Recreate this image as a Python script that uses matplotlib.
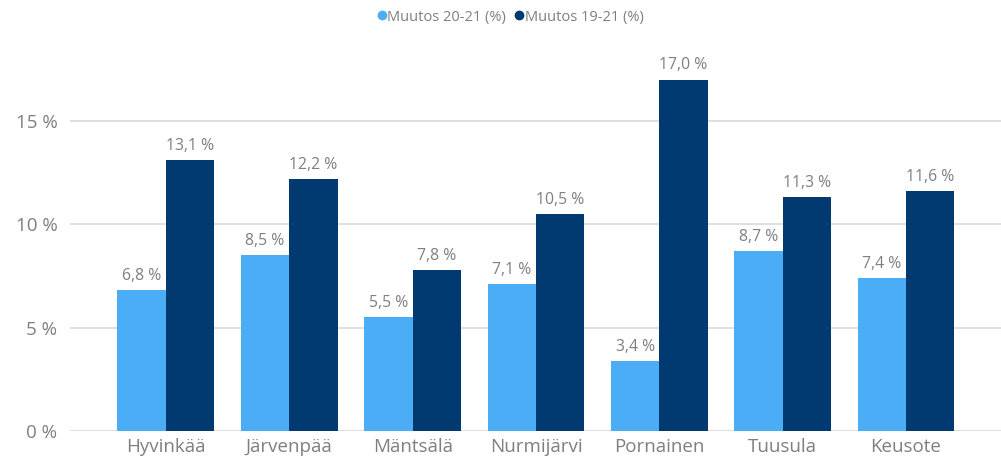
import matplotlib
matplotlib.use("Agg")
import matplotlib.pyplot as plt
import numpy as np
from matplotlib.lines import Line2D

categories = ["Hyvinkää", "Järvenpää", "Mäntsälä", "Nurmijärvi", "Pornainen", "Tuusula", "Keusote"]
muutos_20_21 = [6.8, 8.5, 5.5, 7.1, 3.4, 8.7, 7.4]
muutos_19_21 = [13.1, 12.2, 7.8, 10.5, 17.0, 11.3, 11.6]
series_names = ["Muutos 20-21 (%)", "Muutos 19-21 (%)"]
yticks = [0, 5, 10, 15]

c_light = "#4BADF5"
c_dark = "#003A70"
grey = "#7F7F7F"

plt.rcParams['font.family'] = ['Open Sans', 'DejaVu Sans']

W, H = 1001, 462
fig = plt.figure(figsize=(W/100, H/100), dpi=100)
left_px, right_px = 70, 1001
bottom_px, top_px = 431, 59
ax = fig.add_axes([left_px/W, (H-bottom_px)/H, (right_px-left_px)/W, (bottom_px-top_px)/H])

x = np.arange(len(categories))
bw = 0.393
b1 = ax.bar(x - bw/2, muutos_20_21, bw, color=c_light, zorder=3)
b2 = ax.bar(x + bw/2, muutos_19_21, bw, color=c_dark, zorder=3)

for bars, vals in ((b1, muutos_20_21), (b2, muutos_19_21)):
    for r, v in zip(bars, vals):
        ax.text(r.get_x() + r.get_width()/2, v + 0.3, f"{v:.1f} %".replace(".", ","),
                ha="center", va="bottom", fontsize=11.3, color=grey, zorder=4)

ax.set_xlim(-0.778, 6.77)
ax.set_ylim(0, 18)
ax.set_yticks(yticks)
ax.set_yticklabels([f"{t} %" for t in yticks])
ax.set_xticks(x)
ax.set_xticklabels(categories)
ax.tick_params(axis="both", length=0, colors=grey, labelsize=13.5)
ax.tick_params(axis="y", pad=9)
ax.tick_params(axis="x", pad=5)
ax.grid(axis="y", color="#D9D9D9", linewidth=1.2, zorder=0)
for s in ax.spines.values():
    s.set_visible(False)

handles = [Line2D([0], [0], marker="o", linestyle="", markersize=6, markerfacecolor=c, markeredgecolor=c)
           for c in (c_light, c_dark)]
fig.legend(handles, series_names, loc="center", bbox_to_anchor=(510/W, 1 - 17/H), ncol=2,
           frameon=False, fontsize=10.5, labelcolor=grey, handletextpad=0.0, columnspacing=0.5,
           handlelength=0.8)

fig.savefig("out.png", dpi=100)
